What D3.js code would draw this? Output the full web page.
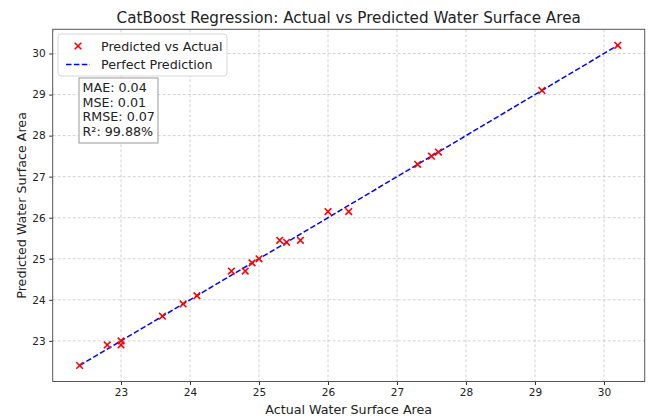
<!DOCTYPE html>
<html>
<head>
<meta charset="utf-8">
<script src="https://cdn.jsdelivr.net/npm/d3@7"></script>
<style>
  html, body { margin: 0; padding: 0; background: #fff; }
  svg { display: block; font-family: "DejaVu Sans", sans-serif; }
</style>
</head>
<body>
<svg id="chart" width="654" height="418"></svg>
<script>
// Test-set observations: actual vs CatBoost-predicted water surface area
const actual = [22.4, 22.8, 23.0, 23.0, 23.6, 23.9, 24.1, 24.6, 24.8, 24.9, 25.0,
                25.3, 25.4, 25.6, 26.0, 26.3, 27.3, 27.5, 27.6, 29.1, 30.2];
const predicted = [22.4, 22.9, 23.0, 22.9, 23.6, 23.9, 24.1, 24.7, 24.7, 24.9, 25.0,
                   25.45, 25.4, 25.45, 26.15, 26.15, 27.3, 27.5, 27.6, 29.1, 30.2];
const xTicks = [23, 24, 25, 26, 27, 28, 29, 30];
const yTicks = [23, 24, 25, 26, 27, 28, 29, 30];
const metricLines = ["MAE: 0.04", "MSE: 0.01", "RMSE: 0.07", "R²: 99.88%"];
const legendLabels = ["Predicted vs Actual", "Perfect Prediction"];

const svg = d3.select("#chart");
const margin = { left: 52.7, right: 654 - 644.7, top: 29.3, bottom: 418 - 381.5 };
const W = 654 - margin.left - margin.right;
const H = 418 - margin.top - margin.bottom;

// Domains padded 5% on each side of the data range
const xmin = d3.min(actual), xmax = d3.max(actual);
const xpad = (xmax - xmin) * 0.05;
const lo = Math.min(xmin, d3.min(predicted));
const hi = Math.max(xmax, d3.max(predicted));
const ypad = (hi - lo) * 0.05;
const x = d3.scaleLinear().domain([xmin - xpad, xmax + xpad]).range([0, W]);
const y = d3.scaleLinear().domain([lo - ypad, hi + ypad]).range([H, 0]);

const g = svg.append("g").attr("transform", `translate(${margin.left},${margin.top})`);

// Grid
g.append("g").selectAll("line").data(xTicks).join("line")
  .attr("x1", d => x(d)).attr("x2", d => x(d)).attr("y1", 0).attr("y2", H)
  .attr("stroke", "#b0b0b0").attr("stroke-opacity", 0.7).attr("stroke-width", 0.8)
  .attr("stroke-dasharray", "3,2");
g.append("g").selectAll("line").data(yTicks).join("line")
  .attr("y1", d => y(d)).attr("y2", d => y(d)).attr("x1", 0).attr("x2", W)
  .attr("stroke", "#b0b0b0").attr("stroke-opacity", 0.7).attr("stroke-width", 0.8)
  .attr("stroke-dasharray", "3,2");

// Perfect prediction reference line
g.append("line")
  .attr("x1", x(xmin)).attr("y1", y(xmin)).attr("x2", x(xmax)).attr("y2", y(xmax))
  .attr("stroke", "#0000ff").attr("stroke-width", 1.5).attr("stroke-dasharray", "5.5,2.4");

// Scatter markers (x shape)
const ms = 3.3;
g.append("g").selectAll("path").data(actual.map((a, i) => [a, predicted[i]])).join("path")
  .attr("d", d => {
    const cx = x(d[0]), cy = y(d[1]);
    return `M${cx - ms},${cy - ms}L${cx + ms},${cy + ms}M${cx - ms},${cy + ms}L${cx + ms},${cy - ms}`;
  })
  .attr("stroke", "#ff0000").attr("stroke-width", 1.6).attr("fill", "none");

// Axes
const xAxis = g.append("g").attr("transform", `translate(0,${H})`)
  .call(d3.axisBottom(x).tickValues(xTicks).tickSize(3.5).tickPadding(3.5).tickFormat(d3.format("d")));
const yAxis = g.append("g")
  .call(d3.axisLeft(y).tickValues(yTicks).tickSize(3.5).tickPadding(3.5).tickFormat(d3.format("d")));
[xAxis, yAxis].forEach(a => {
  a.select(".domain").remove();
  a.selectAll("line").attr("stroke", "#333");
  a.selectAll("text").attr("font-size", 10.5).attr("fill", "#222").attr("font-family", "DejaVu Sans");
});
g.append("rect").attr("width", W).attr("height", H)
  .attr("fill", "none").attr("stroke", "#555").attr("stroke-width", 1);

// Titles
svg.append("text").attr("x", margin.left + W / 2).attr("y", 23)
  .attr("text-anchor", "middle").attr("font-size", 15.2).attr("fill", "#222")
  .text("CatBoost Regression: Actual vs Predicted Water Surface Area");
svg.append("text").attr("x", margin.left + W / 2).attr("y", 414)
  .attr("text-anchor", "middle").attr("font-size", 12.7).attr("fill", "#222")
  .text("Actual Water Surface Area");
svg.append("text").attr("transform", `translate(26,${margin.top + H / 2}) rotate(-90)`)
  .attr("text-anchor", "middle").attr("font-size", 12.7).attr("fill", "#222")
  .text("Predicted Water Surface Area");

// Legend
const lg = svg.append("g").attr("transform", "translate(58,34)");
lg.append("rect").attr("width", 169).attr("height", 42).attr("rx", 3)
  .attr("fill", "#fff").attr("fill-opacity", 0.85).attr("stroke", "#d6d6d6");
lg.append("path")
  .attr("d", `M${20 - ms},${12 - ms}L${20 + ms},${12 + ms}M${20 - ms},${12 + ms}L${20 + ms},${12 - ms}`)
  .attr("stroke", "#ff0000").attr("stroke-width", 1.6);
lg.append("line").attr("x1", 8).attr("x2", 32).attr("y1", 30.5).attr("y2", 30.5)
  .attr("stroke", "#0000ff").attr("stroke-width", 1.5).attr("stroke-dasharray", "5.5,2.4");
lg.selectAll("text.lab").data(legendLabels).join("text")
  .attr("x", 43).attr("y", (d, i) => 16.5 + i * 18.5)
  .attr("font-size", 12.7).attr("fill", "#222").text(d => d);

// Metrics box
const mb = svg.append("g").attr("transform", "translate(79,78)");
mb.append("rect").attr("width", 79).attr("height", 65)
  .attr("fill", "#fff").attr("stroke", "#999").attr("stroke-width", 1);
mb.selectAll("text").data(metricLines).join("text")
  .attr("x", 3.5).attr("y", (d, i) => 14 + i * 14.5)
  .attr("font-size", 12.7).attr("fill", "#222").text(d => d);
</script>
</body>
</html>
